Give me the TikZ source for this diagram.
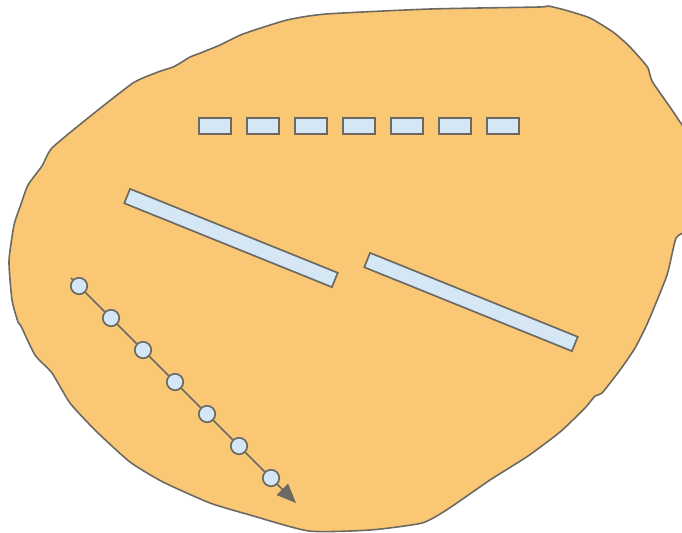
\documentclass[tikz,border=0pt]{standalone}
\usetikzlibrary{arrows.meta}
\definecolor{blobfill}{RGB}{250,200,117}
\definecolor{partfill}{RGB}{213,230,244}
\definecolor{edgegray}{RGB}{108,104,98}
\tikzset{
  part/.style={draw=edgegray,fill=partfill,line width=0.95pt,inner sep=0pt},
  smallbar/.style={part,minimum width=0.64cm,minimum height=0.32cm},
  longbar/.style={part,minimum width=4.48cm,minimum height=0.31cm,rotate=-22},
  ball/.style={part,circle,minimum size=0.33cm},
}
\begin{document}
\begin{tikzpicture}[x=0.02cm,y=-0.02cm,>={Triangle[length=11pt,width=9pt]}]
  \clip (0,0) rectangle (682,532);
  % 外形
  \draw[edgegray,fill=blobfill,line width=0.9pt] plot[smooth cycle,tension=0.35] coordinates{
    (326,14) (430,9) (539,7) (548,6) (565,10) (590,18) (613,32) (628,45)
    (640,58) (648,68) (652,81) (665,100) (678,119) (688,140) (688,225)
    (676,238) (667,275) (648,322) (635,348) (620,370) (602,393) (595,396)
    (585,408) (560,432) (528,456) (490,480) (448,509) (422,523) (370,530)
    (309,531) (250,515) (210,503) (163,482) (130,462) (96,431) (70,403)
    (52,373) (35,355) (21,326) (18,322) (12,300) (9,261) (14,225) (20,207)
    (28,185) (42,166) (52,148) (88,118) (133,83) (158,72) (173,67)
    (182,62) (190,57) (203,52) (220,45) (243,34) (287,20)};
  % 上段の小片
  \foreach \i in {0,...,6}
    \node[smallbar] (s\i) at ({215+48*\i},126) {};
  % 斜めの板
  \node[longbar] (barA) at (231,238) {};
  \node[longbar] (barB) at (471,302) {};
  % 粒子列と矢印
  \coordinate (pstart) at (71,278);
  \coordinate (pend) at (296,503);
  \draw[->,edgegray,line width=0.95pt] (pstart) -- (pend);
  \foreach \i in {0,...,6}
    \node[ball] (p\i) at ({79+32*\i},{286+32*\i}) {};
\end{tikzpicture}
\end{document}
